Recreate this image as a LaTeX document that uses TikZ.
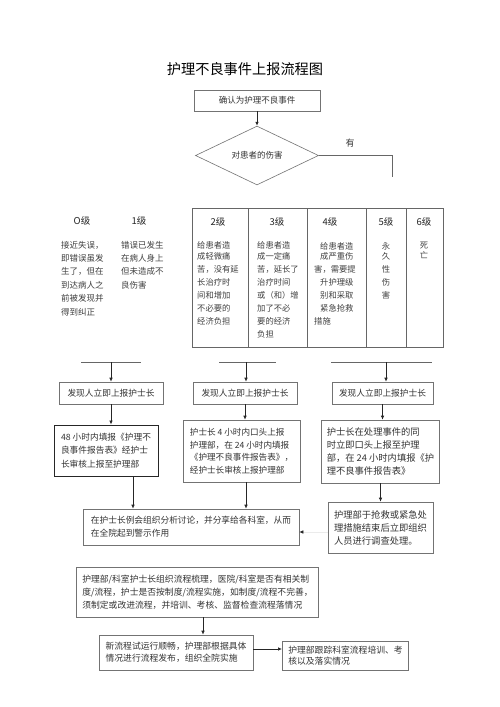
\documentclass[tikz,border=0pt]{standalone}
\usepackage{fontspec}
\setmainfont{Noto Sans CJK SC}
\usetikzlibrary{arrows.meta,shapes.geometric}
\tikzset{
  box/.style={draw=black!55, line width=0.6pt, text=black!80, align=left, inner xsep=6pt, inner ysep=0pt, font=\fontsize{8.7}{13}\selectfont},
  arr/.style={draw=black!85, line width=0.7pt, -{Latex[length=4pt,width=3.5pt]}},
  plain/.style={draw=black!60, line width=0.6pt},
  tbl/.style={draw=black!60, line width=0.6pt},
  hdr/.style={text=black!85, font=\fontsize{9.5}{11}\selectfont, inner sep=0pt},
  lvtxt/.style={text=black!75, align=left, inner sep=0pt, anchor=north west, font=\fontsize{8.5}{13.4}\selectfont},
  tbtxt/.style={text=black!75, align=left, inner sep=0pt, anchor=north west, font=\fontsize{8.3}{13.1}\selectfont},
}
\begin{document}
\begin{tikzpicture}[x=1pt,y=-1pt]
\useasboundingbox (0,0) rectangle (500,707);
\fill[white] (0,0) rectangle (500,707);

\node[font=\fontsize{14.2}{16}\selectfont, text=black] (title) at (245,69) {护理不良事件上报流程图};

\node[box, align=center, minimum width=126pt, minimum height=21pt, font=\fontsize{8.5}{10}\selectfont] (confirm) at (257,100.5) {确认为护理不良事件};
\node[draw=black!55, line width=0.6pt, shape=diamond, minimum width=123pt, minimum height=43pt, inner sep=0pt, text=black!80, font=\fontsize{8.5}{10}\selectfont] (dia) at (257,155.5) {对患者的伤害};
\draw[arr] (confirm.south) -- (dia.north);

\node[text=black!80, font=\fontsize{9}{11}\selectfont] (you) at (350,143) {有};
\coordinate (yescorner) at (392,155.5);
\coordinate (yesend) at (392,177);
\draw[plain] (dia.east) -- (yescorner) -- (yesend);

% table
\draw[tbl] (192,208) rectangle (443,347);
\foreach \xx in {248,307,366,406} \draw[tbl] (\xx,208) -- (\xx,347);

\node[hdr] (h0) at (82,221) {O级};
\node[hdr] (h1) at (139,221) {1级};
\node[hdr] (h2) at (218,222) {2级};
\node[hdr] (h3) at (277,222) {3级};
\node[hdr] (h4) at (330,222) {4级};
\node[hdr] (h5) at (386,222) {5级};
\node[hdr] (h6) at (424,222) {6级};

\node[lvtxt] (l0) at (61,240.7) {接近失误，\\即错误虽发\\生了，但在\\到达病人之\\前被发现并\\得到纠正};
\node[lvtxt] (l1) at (121,240.7) {错误已发生\\在病人身上\\但未造成不\\良伤害};
\node[tbtxt] (l2) at (197,241.7) {给患者造\\[-2.8pt]成轻微痛\\苦，没有延\\长治疗时\\间和增加\\不必要的\\经济负担};
\node[tbtxt] (l3) at (257,241.7) {给患者造\\[-2.8pt]成一定痛\\苦，延长了\\治疗时间\\或（和）增\\加了不必\\要的经济\\负担};
\node[tbtxt] (l4) at (314,242) {\hspace*{6pt}给患者造\\[-2.8pt]\hspace*{6pt}成严重伤\\害，需要提\\\hspace*{6pt}升护理级\\\hspace*{6pt}别和采取\\\hspace*{6pt}紧急抢救\\措施};
\node[tbtxt, anchor=north, align=center] (l5) at (386,242) {永\\[-2.8pt]久\\性\\伤\\害};
\node[tbtxt, anchor=north, align=center] (l6) at (424,242) {死\\[-2.8pt]亡};

% grouping bars
\draw[plain] (81,362) -- (141,362);
\draw[plain] (219,362) -- (276,362);
\draw[plain] (331,362) -- (432,362);
\coordinate (g1) at (111,362);
\coordinate (g2) at (246,362);
\coordinate (g3) at (386,362);

\node[box, align=center, minimum width=104pt, minimum height=22pt] (rep1) at (111,393) {发现人立即上报护士长};
\node[box, align=center, minimum width=104pt, minimum height=22pt] (rep2) at (245,393) {发现人立即上报护士长};
\node[box, align=center, minimum width=101pt, minimum height=22pt] (rep3) at (382.5,393) {发现人立即上报护士长};
\draw[arr] (g1) -- (g1 |- rep1.north);
\draw[arr] (g2) -- (g2 |- rep2.north);
\draw[arr] (g3) -- (g3 |- rep3.north);

\node[box, draw=black!85, line width=0.9pt, minimum width=104pt, minimum height=51pt, font=\fontsize{8.7}{13.5}\selectfont] (b48) at (106,450.5) {48 小时内填报《护理不\\良事件报告表》经护士\\长审核上报至护理部};
\node[box, minimum width=117pt, minimum height=62pt, inner xsep=5pt, font=\fontsize{8.6}{12.5}\selectfont] (b4h) at (241.5,451) {护士长 4 小时内口头上报\\护理部，在 24 小时内填报\\《护理不良事件报告表》，\\经护士长审核上报护理部};
\node[box, minimum width=105pt, minimum height=63pt, inner xsep=5pt, font=\fontsize{9.3}{13}\selectfont] (b3) at (380.5,451.5) {护士长在处理事件的同\\时立即口头上报至护理\\部，在 24 小时内填报《护\\理不良事件报告表》};
\node[box, minimum width=105pt, minimum height=51pt, inner xsep=5pt, font=\fontsize{9.3}{13}\selectfont] (inv) at (380.5,527.5) {护理部于抢救或紧急处\\理措施结束后立即组织\\人员进行调查处理。};

\draw[arr] (rep1.south) -- (rep1.south |- b48.north);
\draw[arr] (rep2.south) -- (rep2.south |- b4h.north);
\draw[arr] (rep3.south) -- (rep3.south |- b3.north);
\draw[arr] (b3.south) -- (b3.south |- inv.north);

\node[box, minimum width=216pt, minimum height=36pt] (ana) at (191,527) {在护士长例会组织分析讨论，并分享给各科室，从而\\在全院起到警示作用};
\coordinate (c1) at (133,0);
\coordinate (c2) at (246,0);
\draw[arr] (b48.south -| c1) -- (ana.north -| c1);
\draw[arr] (b4h.south -| c2) -- (ana.north -| c2);
\coordinate (ya) at (0,532);
\draw[draw=black!8, line width=0.6pt, -{Latex[length=4pt,width=3.5pt,color=black!85]}] (inv.west |- ya) -- (ana.east |- ya);

% bottom part
\node[box, minimum width=239pt, minimum height=50pt, font=\fontsize{8.8}{13}\selectfont] (big) at (197.5,592) {护理部/科室护士长组织流程梳理，医院/科室是否有相关制\\度/流程，护士是否按制度/流程实施，如制度/流程不完善，\\须制定或改进流程，并培训、考核、监督检查流程落情况};
\node[box, minimum width=154pt, minimum height=35pt, font=\fontsize{8.8}{12}\selectfont] (new) at (176,652.5) {新流程试运行顺畅，护理部根据具体\\情况进行流程发布，组织全院实施};
\node[box, minimum width=125pt, minimum height=29pt, font=\fontsize{8.8}{11.5}\selectfont] (track) at (345.5,655.5) {护理部跟踪科室流程培训、考\\核以及落实情况};
\coordinate (c3) at (203,0);
\draw[arr] (big.south -| c3) -- (new.north -| c3);
\coordinate (yb) at (0,649);
\draw[arr] (new.east |- yb) -- (track.west |- yb);
\end{tikzpicture}
\end{document}
